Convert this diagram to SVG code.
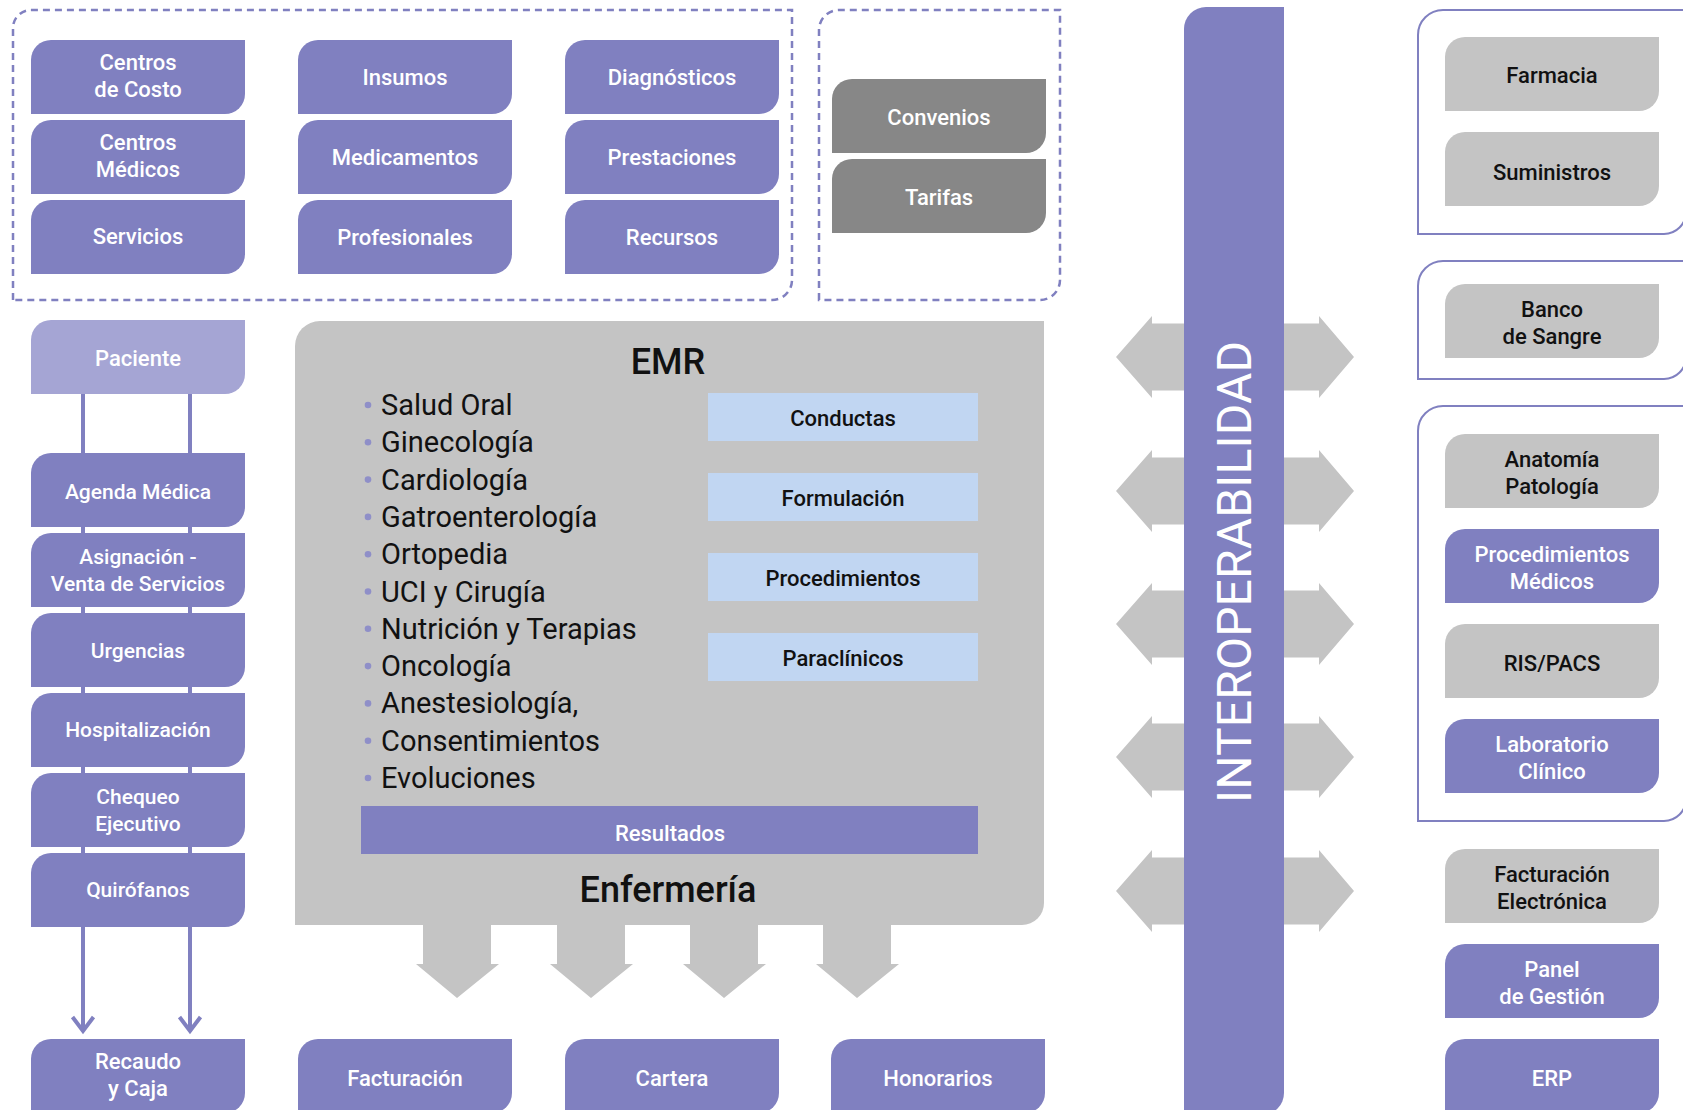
<svg xmlns="http://www.w3.org/2000/svg" xmlns:xlink="http://www.w3.org/1999/xlink" width="1683" height="1110" viewBox="0 0 1683 1110">
<style>
.pu{fill:#8080c0}
.lp{fill:#a5a5d4}
.gr{fill:#c4c4c4}
.dg{fill:#878787}
.lb{fill:#c1d6f2}
.t{font-family:Roboto,"Liberation Sans",sans-serif;font-weight:500;font-size:22px;text-anchor:middle}
.s{font-size:21px}
.w{fill:#ffffff}
.k{fill:#111111}
.li{font-family:Roboto,"Liberation Sans",sans-serif;font-size:29px;fill:#111111}
.h{font-family:Roboto,"Liberation Sans",sans-serif;font-weight:500;font-size:36px;fill:#111111;text-anchor:middle}
.dash{fill:none;stroke:#8080c0;stroke-width:2.5;stroke-dasharray:7 5}
.grp{fill:none;stroke:#8080c0;stroke-width:2}
.conn{fill:none;stroke:#8080c0;stroke-width:4}
.bul{fill:#8f8fc8}
</style>
<defs>
<path id="leaf" d="M20,0 H214 V54 A20,20 0 0 1 194,74 H0 V20 A20,20 0 0 1 20,0 Z"/>
<marker id="chev" markerUnits="userSpaceOnUse" markerWidth="30" markerHeight="30" refX="17" refY="15" orient="auto" viewBox="0 0 30 30">
<path d="M3,4.5 L17,15 L3,25.5" fill="none" stroke="#8080c0" stroke-width="4"/>
</marker>
</defs>

<!-- containers -->
<g id="box-catalogos"><path class="dash" d="M13,300 V28 A18,18 0 0 1 31,10 H792 V280 A20,20 0 0 1 772,300 Z"/></g>
<g id="box-contratos"><path class="dash" d="M819,300 V30 A20,20 0 0 1 839,10 H1060 V280 A20,20 0 0 1 1040,300 Z"/></g>
<g id="grp-1"><path class="grp" d="M1418,234 V35 A25,25 0 0 1 1443,10 H1686 V212 A22,22 0 0 1 1664,234 Z"/></g>
<g id="grp-2"><path class="grp" d="M1418,379 V286 A25,25 0 0 1 1443,261 H1686 V357 A22,22 0 0 1 1664,379 Z"/></g>
<g id="grp-3"><path class="grp" d="M1418,821 V431 A25,25 0 0 1 1443,406 H1686 V799 A22,22 0 0 1 1664,821 Z"/></g>

<!-- connectors -->
<g id="connectors">
<path class="conn" d="M83,394 V1031" marker-end="url(#chev)"/>
<path class="conn" d="M190,394 V1031" marker-end="url(#chev)"/>
<g class="gr">
<path d="M423,920 H491 V964 H499 L457,998 L416,964 H423 Z"/>
<path d="M557,920 H625 V964 H633 L591,998 L550,964 H557 Z"/>
<path d="M690,920 H758 V964 H766 L724,998 L683,964 H690 Z"/>
<path d="M823,920 H891 V964 H899 L857,998 L816,964 H823 Z"/>
<path d="M1116,357 L1152,316 V323.5 H1319 V316 L1354,357 L1319,398 V390.5 H1152 V398 Z"/>
<path d="M1116,491 L1152,450 V457.5 H1319 V450 L1354,491 L1319,532 V524.5 H1152 V532 Z"/>
<path d="M1116,624 L1152,583 V590.5 H1319 V583 L1354,624 L1319,665 V657.5 H1152 V665 Z"/>
<path d="M1116,757 L1152,716 V723.5 H1319 V716 L1354,757 L1319,798 V790.5 H1152 V798 Z"/>
<path d="M1116,891 L1152,850 V857.5 H1319 V850 L1354,891 L1319,932 V924.5 H1152 V932 Z"/>
</g>
</g>

<!-- top catalog nodes -->
<g id="n-centros-costo"><use href="#leaf" x="31" y="40" class="pu"/><text class="t w" x="138"><tspan x="138" y="70">Centros</tspan><tspan x="138" y="97">de Costo</tspan></text></g>
<g id="n-centros-medicos"><use href="#leaf" x="31" y="120" class="pu"/><text class="t w" x="138"><tspan x="138" y="150">Centros</tspan><tspan x="138" y="177">Médicos</tspan></text></g>
<g id="n-servicios"><use href="#leaf" x="31" y="200" class="pu"/><text class="t w" x="138" y="244">Servicios</text></g>
<g id="n-insumos"><use href="#leaf" x="298" y="40" class="pu"/><text class="t w" x="405" y="85">Insumos</text></g>
<g id="n-medicamentos"><use href="#leaf" x="298" y="120" class="pu"/><text class="t w" x="405" y="165">Medicamentos</text></g>
<g id="n-profesionales"><use href="#leaf" x="298" y="200" class="pu"/><text class="t w" x="405" y="245">Profesionales</text></g>
<g id="n-diagnosticos"><use href="#leaf" x="565" y="40" class="pu"/><text class="t w" x="672" y="85">Diagnósticos</text></g>
<g id="n-prestaciones"><use href="#leaf" x="565" y="120" class="pu"/><text class="t w" x="672" y="165">Prestaciones</text></g>
<g id="n-recursos"><use href="#leaf" x="565" y="200" class="pu"/><text class="t w" x="672" y="245">Recursos</text></g>
<g id="n-convenios"><use href="#leaf" x="832" y="79" class="dg"/><text class="t w" x="939" y="125">Convenios</text></g>
<g id="n-tarifas"><use href="#leaf" x="832" y="159" class="dg"/><text class="t w" x="939" y="205">Tarifas</text></g>

<!-- left flow -->
<g id="n-paciente"><use href="#leaf" x="31" y="320" class="lp"/><text class="t w" x="138" y="366">Paciente</text></g>
<g id="n-agenda"><use href="#leaf" x="31" y="453" class="pu"/><text class="t s w" x="138" y="499">Agenda Médica</text></g>
<g id="n-asignacion"><use href="#leaf" x="31" y="533" class="pu"/><text class="t s w" x="138"><tspan x="138" y="564">Asignación -</tspan><tspan x="138" y="591">Venta de Servicios</tspan></text></g>
<g id="n-urgencias"><use href="#leaf" x="31" y="613" class="pu"/><text class="t s w" x="138" y="657.5">Urgencias</text></g>
<g id="n-hospitalizacion"><use href="#leaf" x="31" y="693" class="pu"/><text class="t s w" x="138" y="737">Hospitalización</text></g>
<g id="n-chequeo"><use href="#leaf" x="31" y="773" class="pu"/><text class="t s w" x="138"><tspan x="138" y="804">Chequeo</tspan><tspan x="138" y="831">Ejecutivo</tspan></text></g>
<g id="n-quirofanos"><use href="#leaf" x="31" y="853" class="pu"/><text class="t s w" x="138" y="897">Quirófanos</text></g>
<g id="n-recaudo"><use href="#leaf" x="31" y="1039" class="pu"/><text class="t w" x="138"><tspan x="138" y="1069">Recaudo</tspan><tspan x="138" y="1096">y Caja</tspan></text></g>

<!-- EMR -->
<g id="n-emr">
<path class="gr" d="M320,321 H1044 V903 A22,22 0 0 1 1022,925 H295 V346 A25,25 0 0 1 320,321 Z"/>
<text class="h" x="668" y="374">EMR</text>
<g class="bul">
<circle cx="368" cy="405" r="3.3"/><circle cx="368" cy="442.3" r="3.3"/><circle cx="368" cy="479.6" r="3.3"/><circle cx="368" cy="516.9" r="3.3"/><circle cx="368" cy="554.2" r="3.3"/><circle cx="368" cy="591.5" r="3.3"/><circle cx="368" cy="628.8" r="3.3"/><circle cx="368" cy="666.1" r="3.3"/><circle cx="368" cy="703.4" r="3.3"/><circle cx="368" cy="740.7" r="3.3"/><circle cx="368" cy="778" r="3.3"/>
</g>
<text class="li">
<tspan x="381" y="415">Salud Oral</tspan>
<tspan x="381" y="452.3">Ginecología</tspan>
<tspan x="381" y="489.6">Cardiología</tspan>
<tspan x="381" y="526.9">Gatroenterología</tspan>
<tspan x="381" y="564.2">Ortopedia</tspan>
<tspan x="381" y="601.5">UCI y Cirugía</tspan>
<tspan x="381" y="638.8">Nutrición y Terapias</tspan>
<tspan x="381" y="676.1">Oncología</tspan>
<tspan x="381" y="713.4">Anestesiología,</tspan>
<tspan x="381" y="750.7">Consentimientos</tspan>
<tspan x="381" y="788">Evoluciones</tspan>
</text>
<text class="h" x="668" y="902">Enfermería</text>
</g>
<g id="n-conductas"><rect class="lb" x="708" y="393" width="270" height="48"/><text class="t k" x="843" y="426">Conductas</text></g>
<g id="n-formulacion"><rect class="lb" x="708" y="473" width="270" height="48"/><text class="t k" x="843" y="506">Formulación</text></g>
<g id="n-procedimientos"><rect class="lb" x="708" y="553" width="270" height="48"/><text class="t k" x="843" y="586">Procedimientos</text></g>
<g id="n-paraclinicos"><rect class="lb" x="708" y="633" width="270" height="48"/><text class="t k" x="843" y="666">Paraclínicos</text></g>
<g id="n-resultados"><rect class="pu" x="361" y="806" width="617" height="48"/><text class="t w" x="670" y="840.5">Resultados</text></g>

<!-- bottom -->
<g id="n-facturacion"><use href="#leaf" x="298" y="1039" class="pu"/><text class="t w" x="405" y="1086">Facturación</text></g>
<g id="n-cartera"><use href="#leaf" x="565" y="1039" class="pu"/><text class="t w" x="672" y="1086">Cartera</text></g>
<g id="n-honorarios"><use href="#leaf" x="831" y="1039" class="pu"/><text class="t w" x="938" y="1086">Honorarios</text></g>

<!-- interoperabilidad -->
<g id="n-interop">
<path class="pu" d="M1206,7 H1284 V1093 A22,22 0 0 1 1262,1115 H1184 V29 A22,22 0 0 1 1206,7 Z"/>
<text x="1251" y="572" transform="rotate(-90 1251 572)" text-anchor="middle" font-family="Roboto,'Liberation Sans',sans-serif" font-size="48" fill="#ffffff" textLength="462" lengthAdjust="spacing">INTEROPERABILIDAD</text>
</g>

<!-- right side -->
<g id="n-farmacia"><use href="#leaf" x="1445" y="37" class="gr"/><text class="t k" x="1552" y="83">Farmacia</text></g>
<g id="n-suministros"><use href="#leaf" x="1445" y="132" class="gr"/><text class="t k" x="1552" y="180">Suministros</text></g>
<g id="n-banco"><use href="#leaf" x="1445" y="284" class="gr"/><text class="t k" x="1552"><tspan x="1552" y="317">Banco</tspan><tspan x="1552" y="344">de Sangre</tspan></text></g>
<g id="n-anatomia"><use href="#leaf" x="1445" y="434" class="gr"/><text class="t k" x="1552"><tspan x="1552" y="466.5">Anatomía</tspan><tspan x="1552" y="493.5">Patología</tspan></text></g>
<g id="n-proc-medicos"><use href="#leaf" x="1445" y="529" class="pu"/><text class="t w" x="1552"><tspan x="1552" y="561.5">Procedimientos</tspan><tspan x="1552" y="588.5">Médicos</tspan></text></g>
<g id="n-rispacs"><use href="#leaf" x="1445" y="624" class="gr"/><text class="t k" x="1552" y="671">RIS/PACS</text></g>
<g id="n-laboratorio"><use href="#leaf" x="1445" y="719" class="pu"/><text class="t w" x="1552"><tspan x="1552" y="752">Laboratorio</tspan><tspan x="1552" y="779">Clínico</tspan></text></g>
<g id="n-fact-electronica"><use href="#leaf" x="1445" y="849" class="gr"/><text class="t k" x="1552"><tspan x="1552" y="881.5">Facturación</tspan><tspan x="1552" y="908.5">Electrónica</tspan></text></g>
<g id="n-panel"><use href="#leaf" x="1445" y="944" class="pu"/><text class="t w" x="1552"><tspan x="1552" y="976.5">Panel</tspan><tspan x="1552" y="1003.5">de Gestión</tspan></text></g>
<g id="n-erp"><use href="#leaf" x="1445" y="1039" class="pu"/><text class="t w" x="1552" y="1086">ERP</text></g>
</svg>
